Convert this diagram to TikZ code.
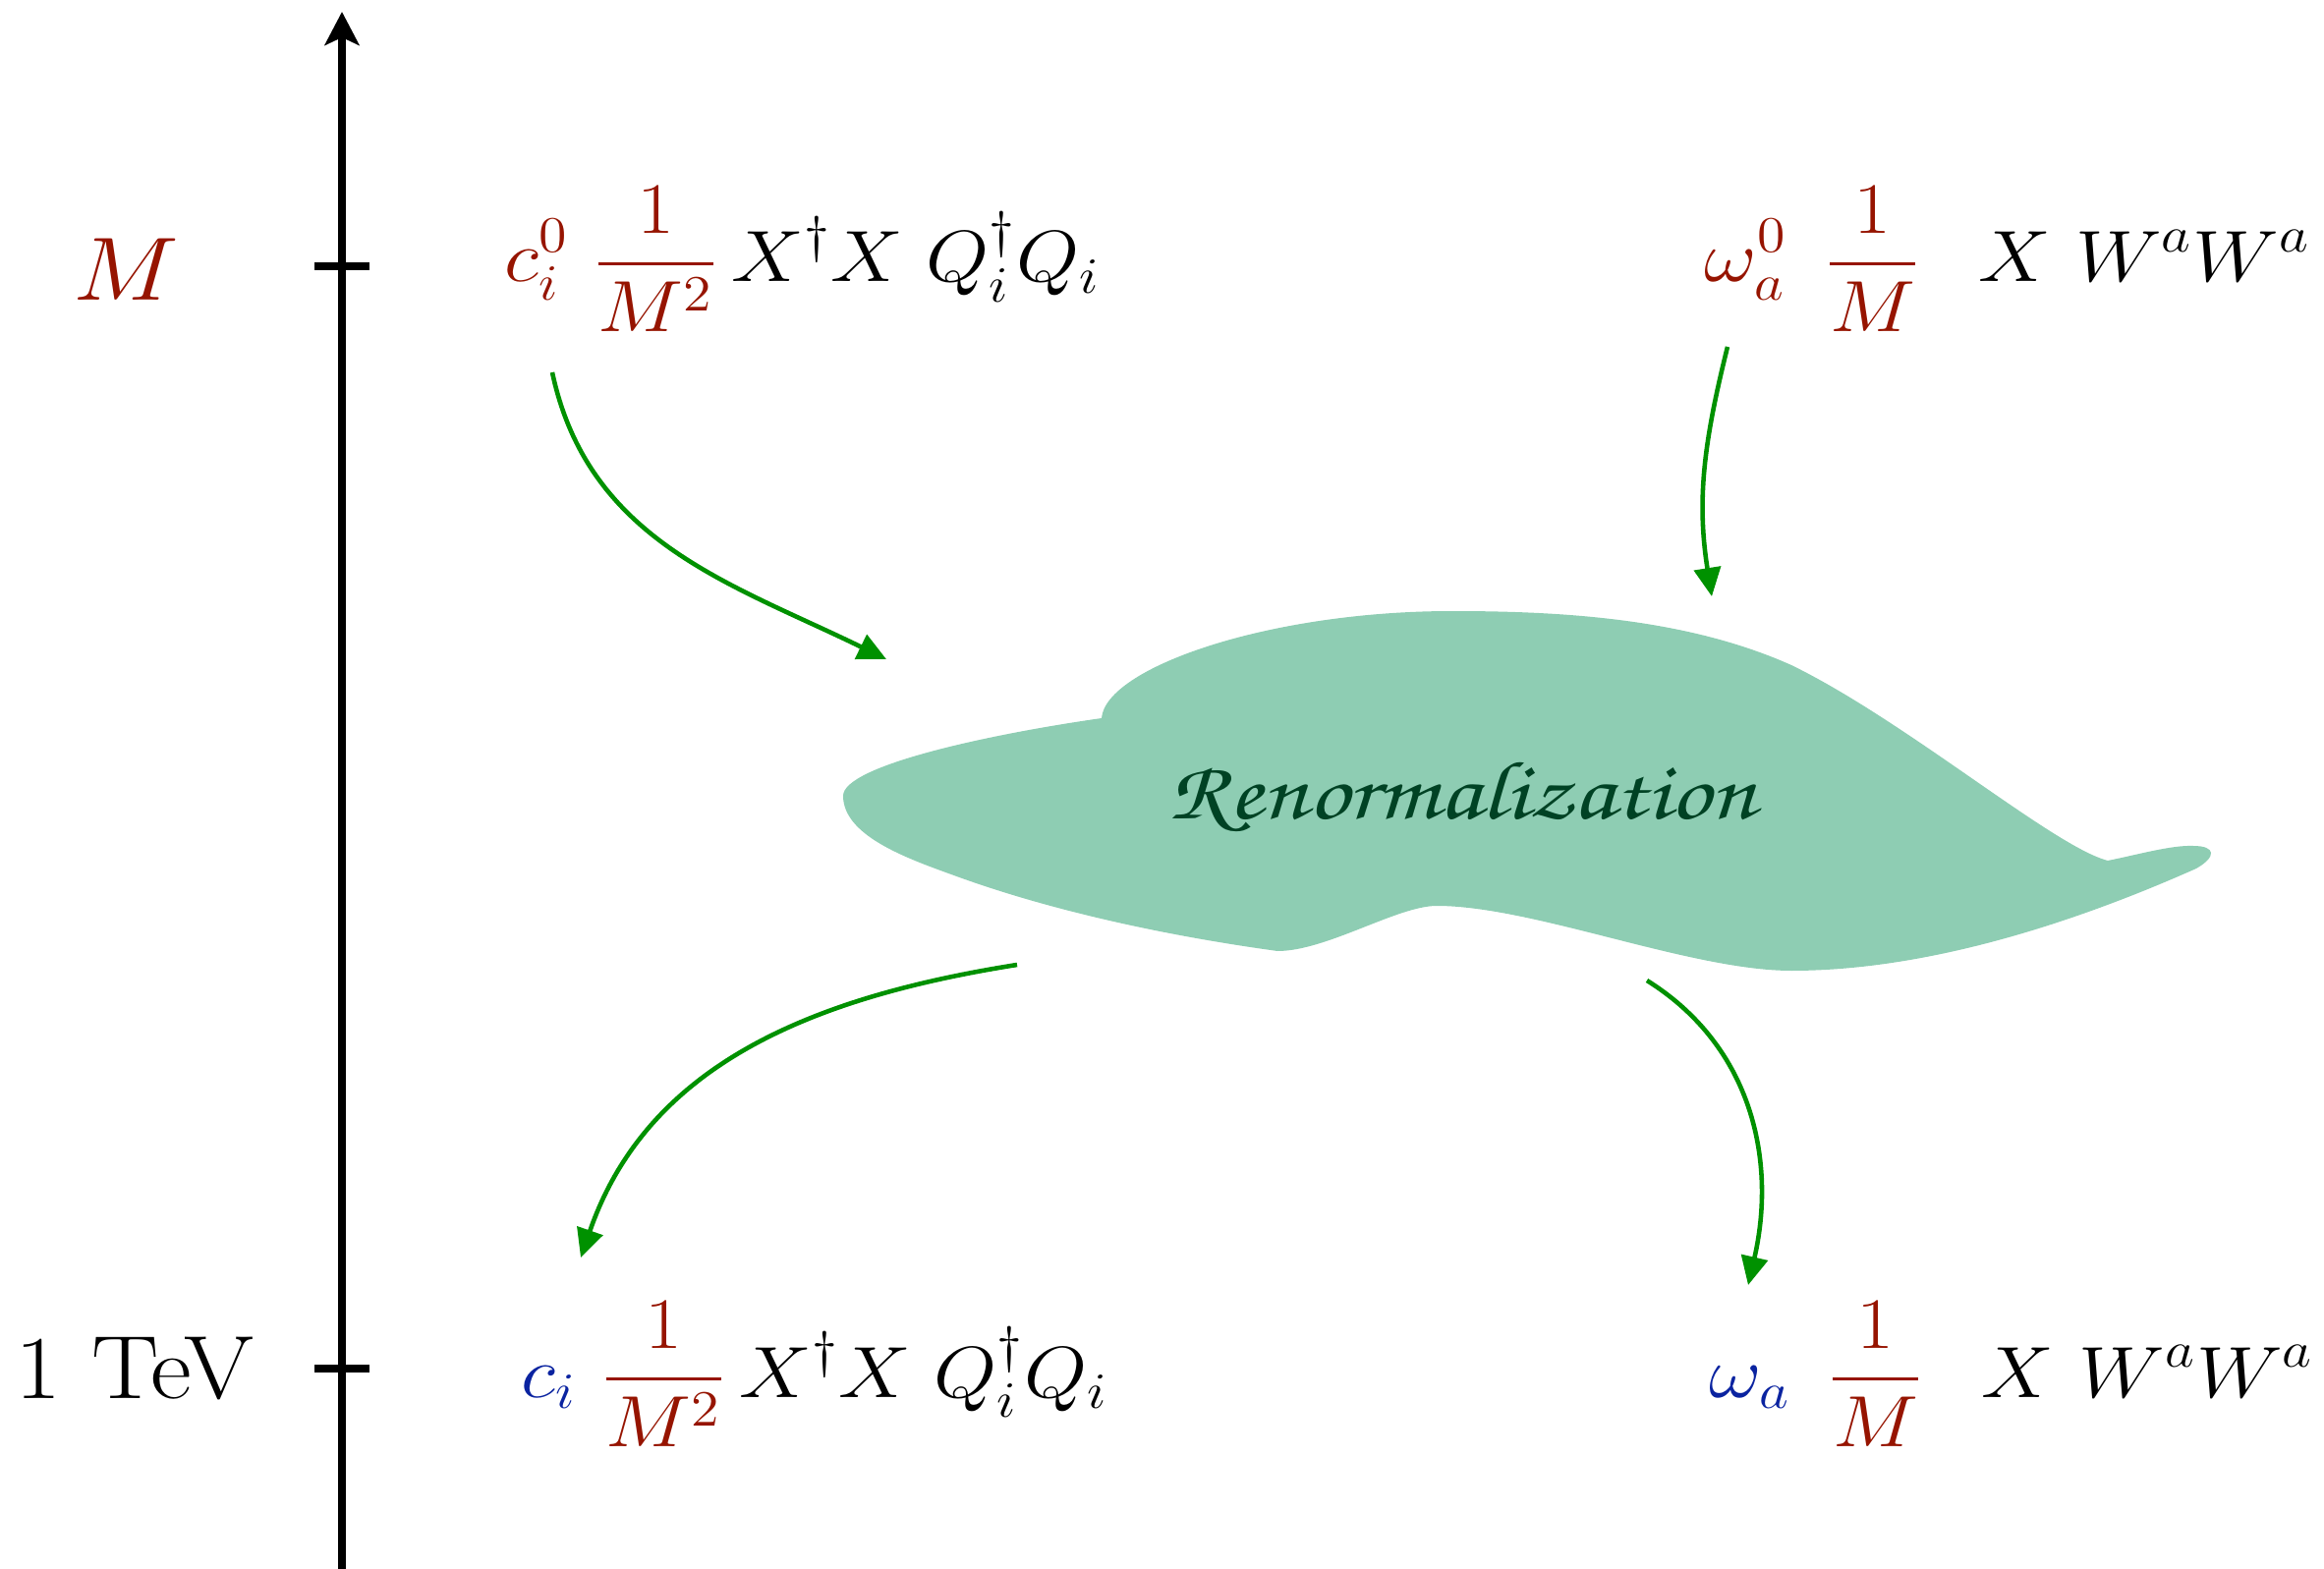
\documentclass[tikz,border=0pt]{standalone}
\usepackage{fix-cm}
\usepackage[T1,TU]{fontenc}
\usepackage{amsmath}
\usepackage{tikz}
\usetikzlibrary{arrows.meta, positioning}
\definecolor{scalered}{RGB}{150,20,0}
\definecolor{lowblue}{RGB}{10,35,160}
\definecolor{flowgreen}{RGB}{0,145,0}
\definecolor{cloudfill}{RGB}{142,205,179}
\definecolor{clouddark}{RGB}{0,66,36}
\tikzset{
  axis/.style={line width=2pt, -{Stealth[length=0.34cm, width=0.35cm, inset=0.08cm]}},
  tickmark/.style={line width=2pt},
  flow/.style={line width=1.3pt, color=flowgreen, -{Triangle[length=0.29cm, width=0.27cm]}},
  scalelbl/.style={font=\fontsize{26}{31}\selectfont, xscale=1.12, inner sep=0pt},
  op/.style={font=\fontsize{21}{26}\selectfont, xscale=1.12, anchor=base west, inner sep=0pt}
}

\begin{document}
\begin{tikzpicture}[x=0.01cm, y=0.01cm]
\useasboundingbox (0,0) rectangle (2365,-1597);

%--- energy axis ---
\coordinate (axbot) at (348,-1597);
\coordinate (axtop) at (348,-12);
\coordinate (tickM) at (348,-271);
\coordinate (tickT) at (348,-1393);
\draw[axis] (axbot) -- (axtop);
\draw[tickmark] ([xshift=-0.28cm]tickM) -- ([xshift=0.28cm]tickM);
\draw[tickmark] ([xshift=-0.28cm]tickT) -- ([xshift=0.28cm]tickT);
\node[scalelbl, text=scalered] (lblM) at (128,-274) {$M$};
\node[scalelbl] (lblT) at (137,-1393) {1 TeV};

%--- cloud ---
\fill[cloudfill] (1121,-731)
  .. controls (1125,-680) and (1290,-622) .. (1478,-622)
  .. controls (1593,-622) and (1718,-630) .. (1823,-677)
  .. controls (1940,-734) and (2090,-862) .. (2145,-876)
  .. controls (2175,-870) and (2210,-860) .. (2232,-861)
  .. controls (2255,-861) and (2256,-872) .. (2235,-884)
  .. controls (2098,-945) and (1953,-988) .. (1823,-988)
  .. controls (1720,-988) and (1560,-922) .. (1462,-922)
  .. controls (1422,-922) and (1350,-968) .. (1300,-968)
  .. controls (1191,-953) and (1071,-928) .. (968,-890)
  .. controls (921,-873) and (858,-850) .. (858,-810)
  .. controls (858,-780) and (1002,-748) .. cycle;
\node[anchor=base, inner sep=0pt, text=clouddark, xscale=1.2,
  font={\fontsize{24}{29}\usefont{T1}{pzc}{mb}{it}}] (renorm) at (1488,-833) {Renormalization};

%--- operators at M ---
\node[op] (opQM) at (513,-287)
  {$\displaystyle {\color{scalered}c_i^0}\ {\color{scalered}\frac{1}{M^2}}\, X^\dagger X\; Q_i^\dagger Q_i$};
\node[op] (opWM) at (1734,-287)
  {$\displaystyle {\color{scalered}\omega_a^0}\ \,{\color{scalered}\frac{1}{M}}\;\;\, X\ W^aW^a$};

%--- operators at 1 TeV ---
\node[op] (opQT) at (530,-1422)
  {$\displaystyle {\color{lowblue}c_i}\ {\color{scalered}\frac{1}{M^2}}\, X^\dagger X\; Q_i^\dagger Q_i$};
\node[op] (opWT) at (1739,-1422)
  {$\displaystyle {\color{lowblue}\omega_a}\ \,{\color{scalered}\frac{1}{M}}\;\;\, X\ W^aW^a$};

%--- running ---
\coordinate (inQ) at (562,-379);
\coordinate (cloudQin) at (902,-671);
\coordinate (inW) at (1758,-353);
\coordinate (cloudWin) at (1742,-607);
\coordinate (cloudQout) at (1035,-982);
\coordinate (outQ) at (591,-1280);
\coordinate (cloudWout) at (1676,-998);
\coordinate (outW) at (1779,-1308);
\draw[flow] (inQ) to[out=-78, in=154] (cloudQin);
\draw[flow] (inW) to[out=-104, in=99] (cloudWin);
\draw[flow] (cloudQout) to[out=189, in=71] (outQ);
\draw[flow] (cloudWout) to[out=-32, in=77] (outW);
\end{tikzpicture}
\end{document}
